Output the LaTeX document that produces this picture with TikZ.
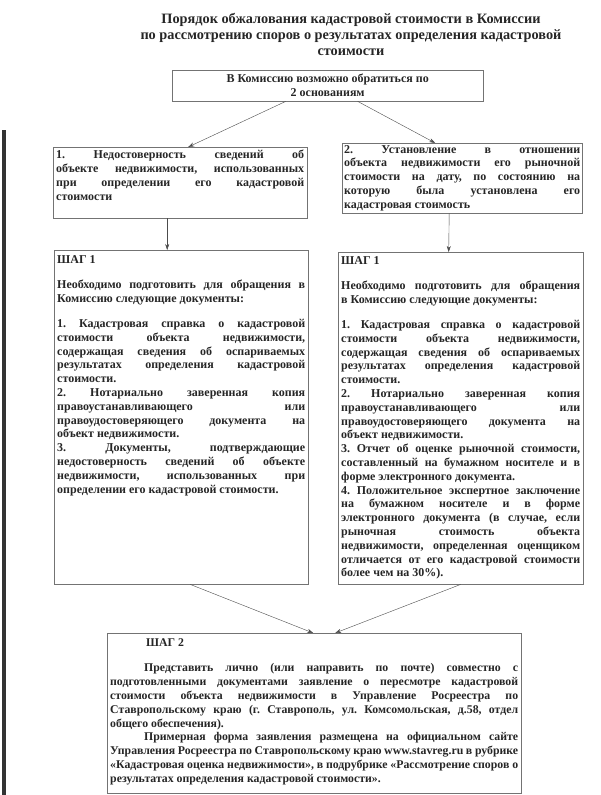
\documentclass[tikz,border=0pt]{standalone}
\usepackage{fontspec}
\setmainfont{Liberation Serif}
\usetikzlibrary{arrows.meta, positioning}

\begin{document}
\frenchspacing\spaceskip=3pt plus 7pt minus 1.2pt\relax
\begin{tikzpicture}[x=1pt, y=-1pt,
    box/.style={draw=black!55, thin, inner sep=3pt, anchor=north west, text=black!85,
        font=\fontsize{12}{13.8}\selectfont\bfseries},
    conn/.style={-{Stealth[length=6pt, width=4pt]}, black!70, thin}]
    % Page
    \useasboundingbox[fill=white] (0,0) rectangle (600,795);

    % Scan edge
    \draw[line width=3.5pt, black!80] (4,130) -- (4,795);

    % Title
    \node[align=center, text=black!85, font=\fontsize{14.3}{16}\selectfont\bfseries] (title) at (351,34)
        {Порядок обжалования кадастровой стоимости в Комиссии\\
         по рассмотрению споров о результатах определения кадастровой\\
         стоимости};

    % Top box
    \node[box, minimum width=311pt, minimum height=31pt, align=center,
        font=\fontsize{12}{14}\selectfont\bfseries] (grounds) at (172,70)
        {В Комиссию возможно обратиться по\\ 2 основаниям};

    % Ground 1
    \node[box] (reason1) at (53,147) {\parbox[c][65pt][t]{248pt}{%
        1. Недостоверность сведений об\linebreak
        объекте недвижимости, использованных\linebreak
        при определении его кадастровой\linebreak
        стоимости}};

    % Ground 2
    \node[box, inner sep=2pt] (reason2) at (342,143) {\parbox[c][66pt][t]{236pt}{%
        2. Установление в отношении\linebreak
        объекта недвижимости его рыночной\linebreak
        стоимости на дату, по состоянию на\linebreak
        которую была установлена его\linebreak
        кадастровая стоимость}};

    % Step 1, left
    \node[box] (stepL) at (54,250) {\parbox[c][328pt][t]{248pt}{%
        \vspace*{2pt}ШАГ 1\par\vspace{12pt}
        Необходимо подготовить для обращения в\linebreak
        Комиссию следующие документы:\par\vspace{11pt}
        1. Кадастровая справка о кадастровой\linebreak
        стоимости объекта недвижимости,\linebreak
        содержащая сведения об оспариваемых\linebreak
        результатах определения кадастровой\linebreak
        стоимости.\par
        2. Нотариально заверенная копия\linebreak
        правоустанавливающего или\linebreak
        правоудостоверяющего документа на\linebreak
        объект недвижимости.\par
        3. Документы, подтверждающие\linebreak
        недостоверность сведений об объекте\linebreak
        недвижимости, использованных при\linebreak
        определении его кадастровой стоимости.}};

    % Step 1, right
    \node[box] (stepR) at (338,252) {\parbox[c][326pt][t]{239pt}{%
        \vspace*{1pt}ШАГ 1\par\vspace{12pt}
        Необходимо подготовить для обращения\linebreak
        в Комиссию следующие документы:\par\vspace{11pt}
        1. Кадастровая справка о кадастровой\linebreak
        стоимости объекта недвижимости,\linebreak
        содержащая сведения об оспариваемых\linebreak
        результатах определения кадастровой\linebreak
        стоимости.\par
        2. Нотариально заверенная копия\linebreak
        правоустанавливающего или\linebreak
        правоудостоверяющего документа на\linebreak
        объект недвижимости.\par
        3. Отчет об оценке рыночной стоимости,\linebreak
        составленный на бумажном носителе и в\linebreak
        форме электронного документа.\par
        4. Положительное экспертное заключение\linebreak
        на бумажном носителе и в форме\linebreak
        электронного документа (в случае, если\linebreak
        рыночная стоимость объекта\linebreak
        недвижимости, определенная оценщиком\linebreak
        отличается от его кадастровой стоимости\linebreak
        более чем на 30\%).}};

    % Step 2
    \node[box, font=\fontsize{11.8}{13.8}\selectfont\bfseries] (step2) at (107,633)
        {\parbox[c][154pt][t]{408pt}{%
        \vspace*{2pt}\hspace*{36pt}ШАГ 2\par\vspace{12pt}
        \hspace*{34pt}Представить лично (или направить по почте) совместно с\linebreak
        подготовленными документами заявление о пересмотре кадастровой\linebreak
        стоимости объекта недвижимости в Управление Росреестра по\linebreak
        Ставропольскому краю (г. Ставрополь, ул. Комсомольская, д.58, отдел\linebreak
        общего обеспечения).\par
        \hspace*{34pt}Примерная форма заявления размещена на официальном сайте\linebreak
        Управления Росреестра по Ставропольскому краю www.stavreg.ru в рубрике\linebreak
        «Кадастровая оценка недвижимости», в подрубрике «Рассмотрение споров о\linebreak
        результатах определения кадастровой стоимости».}};

    % Arrows
    \draw[conn] ([xshift=-42pt]grounds.south) -- ([xshift=8pt]reason1.north);
    \draw[conn] ([xshift=30pt]grounds.south) -- ([xshift=-27pt]reason2.north);
    \draw[conn] ([xshift=-13pt]reason1.south) -- ([xshift=-14pt]stepL.north);
    \draw[conn] ([xshift=-13pt]reason2.south) -- ([xshift=-12pt]stepR.north);
    \draw[conn] ([xshift=9pt]stepL.south) -- ([xshift=-1pt]step2.north);
    \draw[conn] ([xshift=0pt]stepR.south) -- ([xshift=21pt]step2.north);
\end{tikzpicture}
\end{document}
